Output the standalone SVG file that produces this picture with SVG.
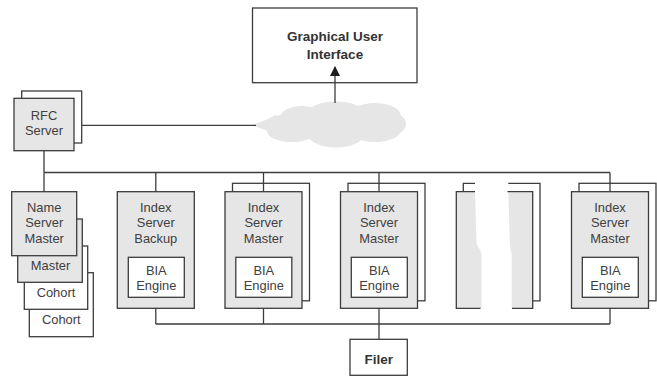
<svg xmlns="http://www.w3.org/2000/svg" width="657" height="377" viewBox="0 0 657 377">
  <style>
    .box { fill: #e6e6e6; stroke: #3c3c3c; stroke-width: 1.3; }
    .back { fill: #ffffff; stroke: #3c3c3c; stroke-width: 1.3; }
    .white { fill: #ffffff; stroke: #3c3c3c; stroke-width: 1.3; }
    .edge { fill: none; stroke: #3c3c3c; stroke-width: 1.3; }
    .gray { fill: #e6e6e6; stroke: none; }
    .lbl { font-family: "Liberation Sans", Arial, sans-serif; font-size: 12.9px; fill: #404040; text-anchor: middle; }
    .big { font-family: "Liberation Sans", Arial, sans-serif; font-size: 13.5px; font-weight: bold; fill: #333333; text-anchor: middle; }
    .wire { fill: none; stroke: #3c3c3c; stroke-width: 1.3; }
  </style>
  <defs>
    <marker id="arrow" viewBox="0 0 10 10" refX="9" refY="5" markerWidth="10" markerHeight="10" markerUnits="userSpaceOnUse" orient="auto">
      <path d="M0,0 L10,5 L0,10 Z" fill="#1e1e1e"/>
    </marker>
  </defs>

  <!-- network cloud -->
  <g id="cloud" fill="#e6e6e6">
    <path d="M251.5,125.3 Q264,121.5 276,115 L276,135 Q264,129 251.5,125.3 Z"/>
    <ellipse cx="282" cy="125" rx="17" ry="10"/>
    <ellipse cx="302" cy="118" rx="22" ry="12"/>
    <ellipse cx="336" cy="115" rx="30" ry="13.5"/>
    <ellipse cx="375" cy="116" rx="26" ry="13"/>
    <ellipse cx="392" cy="124" rx="14" ry="11"/>
    <ellipse cx="292" cy="131" rx="25" ry="11"/>
    <ellipse cx="336" cy="134" rx="28" ry="13.5"/>
    <ellipse cx="375" cy="131" rx="25" ry="11"/>
    <ellipse cx="336" cy="125" rx="60" ry="14"/>
  </g>

  <!-- GUI -->
  <g id="gui">
    <rect class="white" x="252.5" y="8" width="164.5" height="74.7"/>
    <text class="big" x="335" y="41">Graphical User</text>
    <text class="big" x="335" y="58.5">Interface</text>
  </g>

  <!-- RFC server -->
  <g id="rfc-server">
    <rect class="back" x="21.7" y="91" width="60" height="52"/>
    <rect class="box" x="14" y="98.3" width="60" height="52.4"/>
    <text class="lbl" x="44" y="119.5">RFC</text>
    <text class="lbl" x="44" y="134.5">Server</text>
  </g>

  <!-- name server stack -->
  <g id="name-server">
    <rect class="white" x="29.3" y="272.7" width="64" height="64"/>
    <text class="lbl" x="61.3" y="323.5">Cohort</text>
    <rect class="white" x="24.3" y="246" width="63.4" height="63.3"/>
    <text class="lbl" x="56" y="297">Cohort</text>
    <rect class="box" x="17.7" y="219" width="64.6" height="63.3"/>
    <text class="lbl" x="50.5" y="270">Master</text>
    <rect class="box" x="11.7" y="191.7" width="65" height="64"/>
    <text class="lbl" x="44.2" y="212">Name</text>
    <text class="lbl" x="44.2" y="227">Server</text>
    <text class="lbl" x="44.2" y="242.5">Master</text>
  </g>

  <!-- index server backup -->
  <g id="index-backup">
    <rect class="box" x="117.3" y="191.7" width="77" height="116.6"/>
    <text class="lbl" x="155.8" y="212">Index</text>
    <text class="lbl" x="155.8" y="227">Server</text>
    <text class="lbl" x="155.8" y="242.5">Backup</text>
    <rect class="white" x="128.3" y="257.3" width="56" height="40"/>
    <text class="lbl" x="156.3" y="275.3">BIA</text>
    <text class="lbl" x="156.3" y="290.3">Engine</text>
  </g>

  <!-- index server master 1 -->
  <g id="index-master-1">
    <rect class="back" x="232.5" y="183.3" width="77" height="117.5"/>
    <rect class="box" x="225" y="191.7" width="77" height="116.6"/>
    <text class="lbl" x="263.5" y="212">Index</text>
    <text class="lbl" x="263.5" y="227">Server</text>
    <text class="lbl" x="263.5" y="242.5">Master</text>
    <rect class="white" x="235.8" y="257.3" width="56" height="40"/>
    <text class="lbl" x="263.8" y="275.3">BIA</text>
    <text class="lbl" x="263.8" y="290.3">Engine</text>
  </g>

  <!-- index server master 2 -->
  <g id="index-master-2">
    <rect class="back" x="348" y="183.3" width="77" height="117.5"/>
    <rect class="box" x="340.5" y="191.7" width="77" height="116.6"/>
    <text class="lbl" x="379" y="212">Index</text>
    <text class="lbl" x="379" y="227">Server</text>
    <text class="lbl" x="379" y="242.5">Master</text>
    <rect class="white" x="351.3" y="257.3" width="56" height="40"/>
    <text class="lbl" x="379.3" y="275.3">BIA</text>
    <text class="lbl" x="379.3" y="290.3">Engine</text>
  </g>

  <!-- elided servers (broken box) -->
  <g id="index-elided">
    <path class="edge" d="M475,183.3 H463.3 V191.7"/>
    <path class="edge" d="M508.3,183.3 H540 V300.8 H532.7"/>
    <path class="gray" d="M456.3,191.7 H475 L476.5,243 C478,248 480.5,249 481.5,254 L481.5,308.3 H456.3 Z"/>
    <path class="gray" d="M508.3,191.7 H532.7 V308.3 H511.7 L511.7,254 C510.7,249 509.8,248 509.8,243 Z"/>
    <path class="edge" d="M475,191.7 H456.3 V308.3 H480.5"/>
    <path class="edge" d="M507.5,191.7 H532.7 V308.3 H512"/>
  </g>

  <!-- index server master 3 -->
  <g id="index-master-3">
    <rect class="back" x="579" y="183.3" width="77" height="117.5"/>
    <rect class="box" x="571.5" y="191.7" width="77" height="116.6"/>
    <text class="lbl" x="610" y="212">Index</text>
    <text class="lbl" x="610" y="227">Server</text>
    <text class="lbl" x="610" y="242.5">Master</text>
    <rect class="white" x="582.3" y="257.3" width="56" height="40"/>
    <text class="lbl" x="610.3" y="275.3">BIA</text>
    <text class="lbl" x="610.3" y="290.3">Engine</text>
  </g>

  <!-- filer -->
  <g id="filer">
    <rect class="white" x="350" y="339.3" width="57.3" height="36"/>
    <text class="big" x="378.7" y="364">Filer</text>
  </g>

  <!-- connectors: drawn last so the drops cross the back frames -->
  <g id="connectors">
    <path class="wire" d="M82,125.3 H256"/>
    <path class="wire" d="M44,150.7 V172.5"/>
    <path class="wire" d="M44,172.5 H610"/>
    <path class="wire" d="M44,172.5 V191.7"/>
    <path class="wire" d="M155.8,172.5 V191.7"/>
    <path class="wire" d="M263.5,172.5 V191.7"/>
    <path class="wire" d="M379,172.5 V191.7"/>
    <path class="wire" d="M610,172.5 V191.7"/>
    <path class="wire" d="M155.8,308.3 V324"/>
    <path class="wire" d="M263.5,308.3 V324"/>
    <path class="wire" d="M379,308.3 V339.3"/>
    <path class="wire" d="M610,308.3 V324"/>
    <path class="wire" d="M155.8,324 H610"/>
    <path class="wire" d="M335,103 V67" marker-end="url(#arrow)"/>
  </g>
</svg>
